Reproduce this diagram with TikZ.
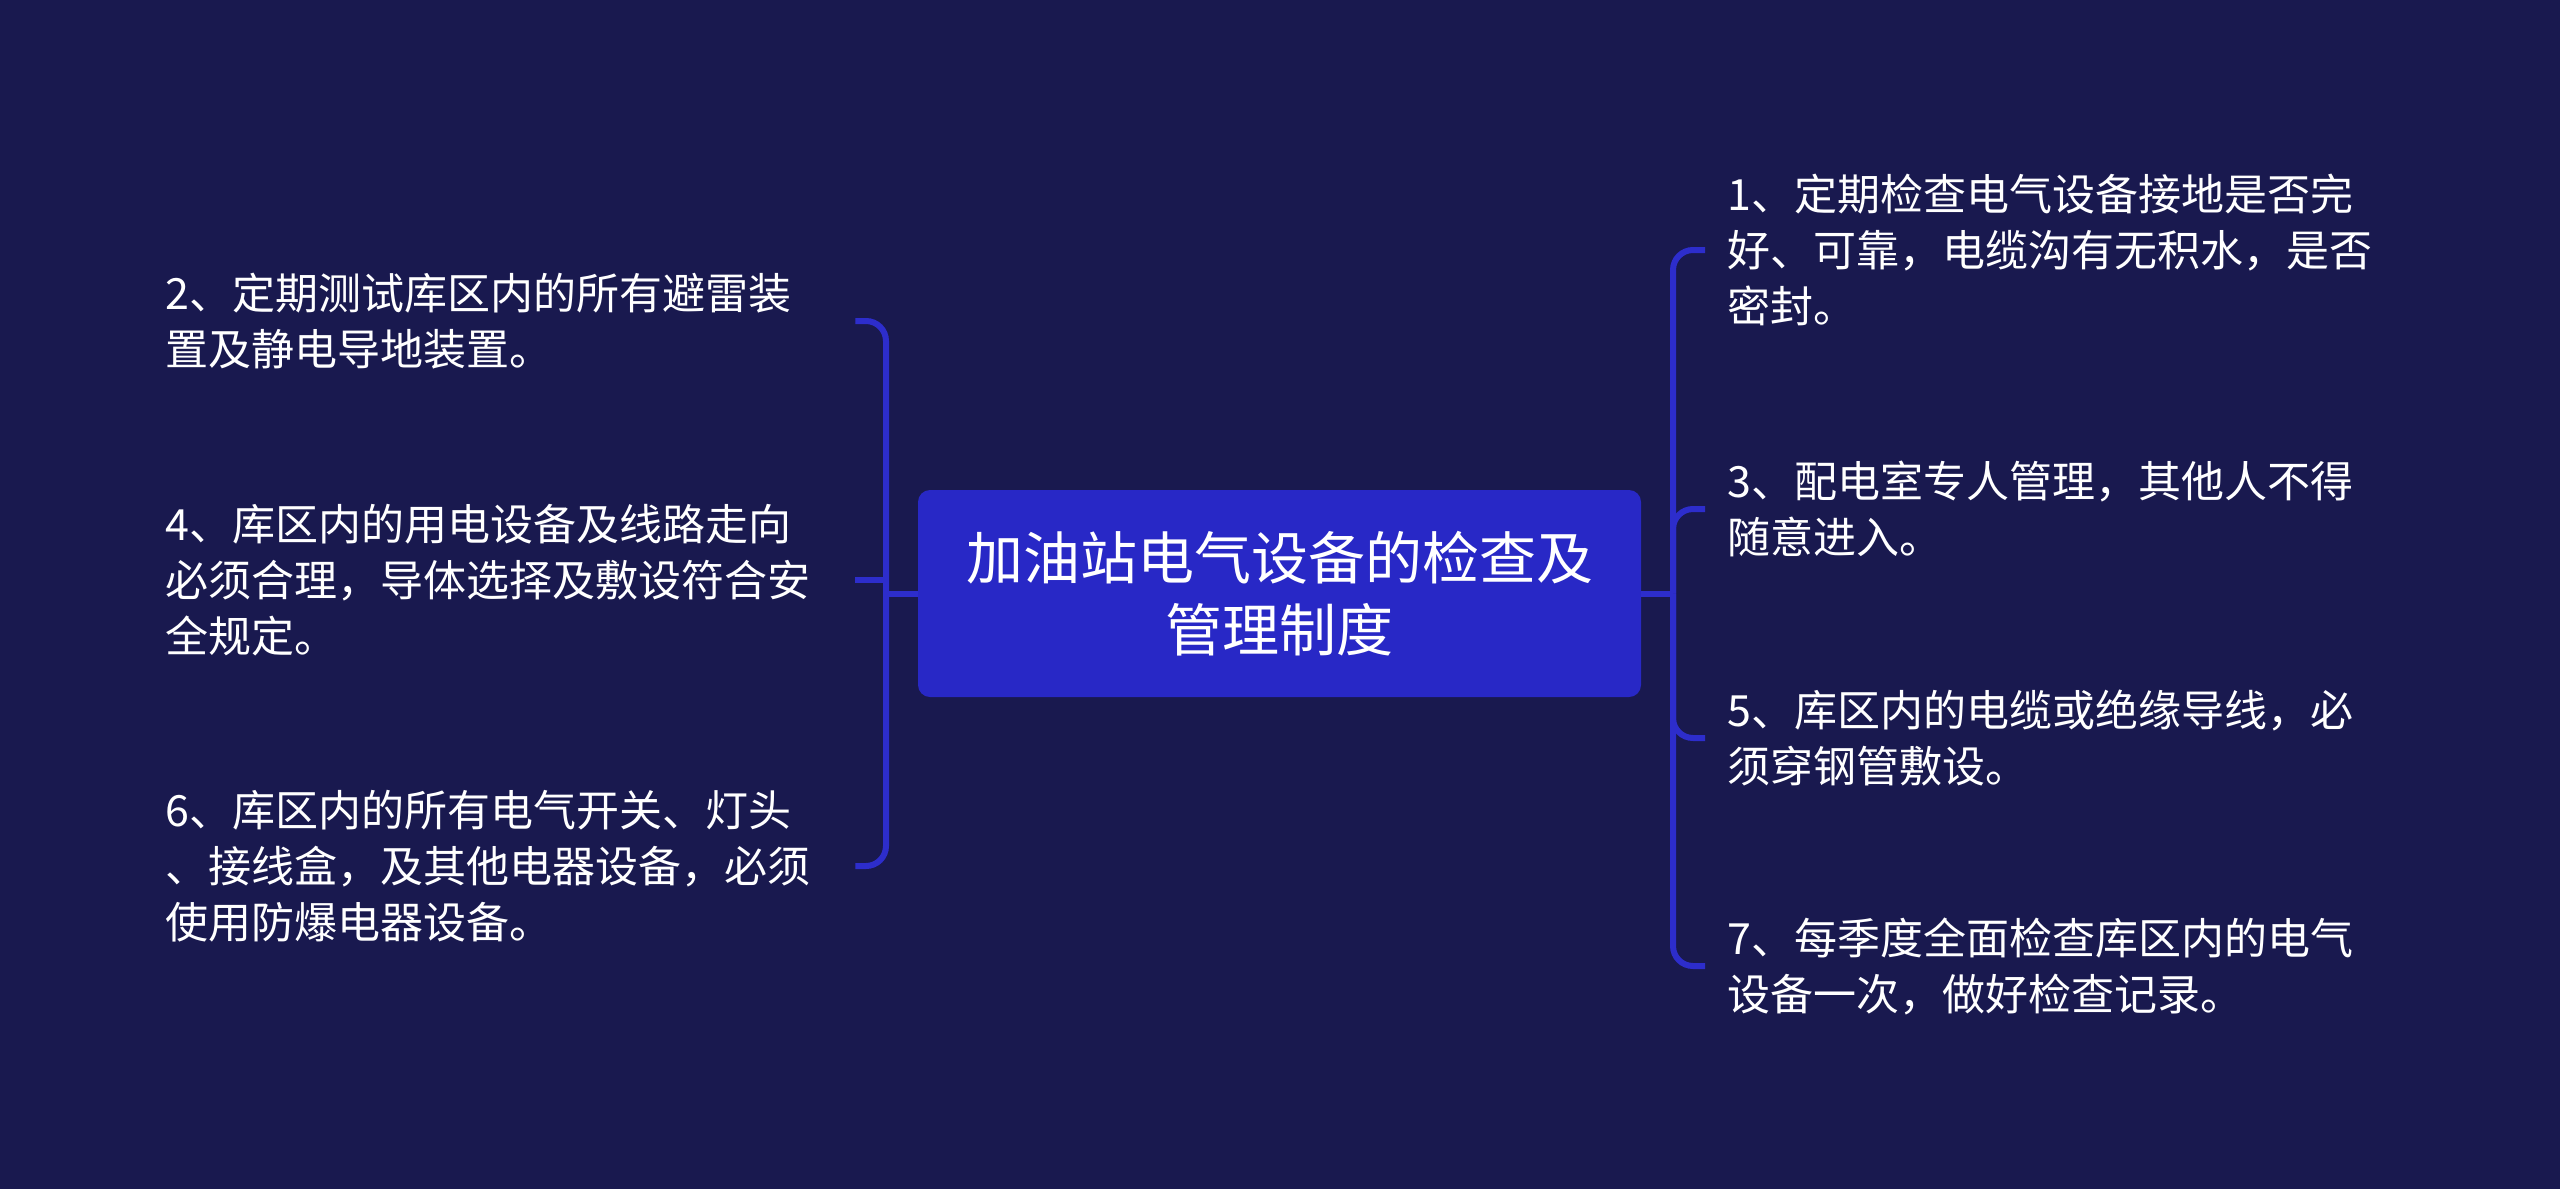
\documentclass[tikz,border=0pt]{standalone}
\usepackage{fontspec}
\newfontfamily\cjk{Noto Sans CJK SC}
\definecolor{bgnavy}{HTML}{19194F}
\definecolor{boxblue}{HTML}{2828C6}
\definecolor{lineblue}{HTML}{2D2DCC}
\begin{document}
\begin{tikzpicture}[x=1pt,y=-1pt,
  rootbox/.style={fill=boxblue,rounded corners=12pt,minimum width=723pt,minimum height=207pt,
    text=white,align=center,font=\cjk\fontsize{57}{72}\selectfont,inner sep=0pt},
  leaf/.style={text=white,align=left,text width=650pt,inner sep=0pt,
    font=\cjk\fontsize{43}{56}\selectfont},
  conn/.style={draw=lineblue,line width=6pt,rounded corners=20pt}]
\fill[bgnavy] (0,0) rectangle (2560,1189);
\useasboundingbox (0,0) rectangle (2560,1189);
\node[rootbox] (root) at (1279.5,593.5) {加油站电气设备的检查及\\管理制度};
% left children
\node[leaf,anchor=west] (n2) at (165,321) {2、定期测试库区内的所有避雷装\\置及静电导地装置。};
\node[leaf,anchor=west] (n4) at (165,580) {4、库区内的用电设备及线路走向\\必须合理，导体选择及敷设符合安\\全规定。};
\node[leaf,anchor=west] (n6) at (165,866) {6、库区内的所有电气开关、灯头\\、接线盒，及其他电器设备，必须\\使用防爆电器设备。};
% right children
\node[leaf,anchor=west] (n1) at (1727,250) {1、定期检查电气设备接地是否完\\好、可靠，电缆沟有无积水，是否\\密封。};
\node[leaf,anchor=west] (n3) at (1727,509) {3、配电室专人管理，其他人不得\\随意进入。};
\node[leaf,anchor=west] (n5) at (1727,738) {5、库区内的电缆或绝缘导线，必\\须穿钢管敷设。};
\node[leaf,anchor=west] (n7) at (1727,966) {7、每季度全面检查库区内的电气\\设备一次，做好检查记录。};
% junctions
\coordinate (lj) at (886,593.5);
\coordinate (rj) at (1673,593.5);
\draw[conn] (root.west) -- (lj);
\draw[conn] (root.east) -- (rj);
\draw[conn] (lj) |- ([xshift=40pt]n2.east);
\draw[conn,sharp corners] (lj) |- ([xshift=40pt]n4.east);
\draw[conn] (lj) |- ([xshift=40pt]n6.east);
\draw[conn] (rj) |- ([xshift=-22pt]n1.west);
\draw[conn] (rj) |- ([xshift=-22pt]n3.west);
\draw[conn] (rj) |- ([xshift=-22pt]n5.west);
\draw[conn] (rj) |- ([xshift=-22pt]n7.west);
\end{tikzpicture}
\end{document}
